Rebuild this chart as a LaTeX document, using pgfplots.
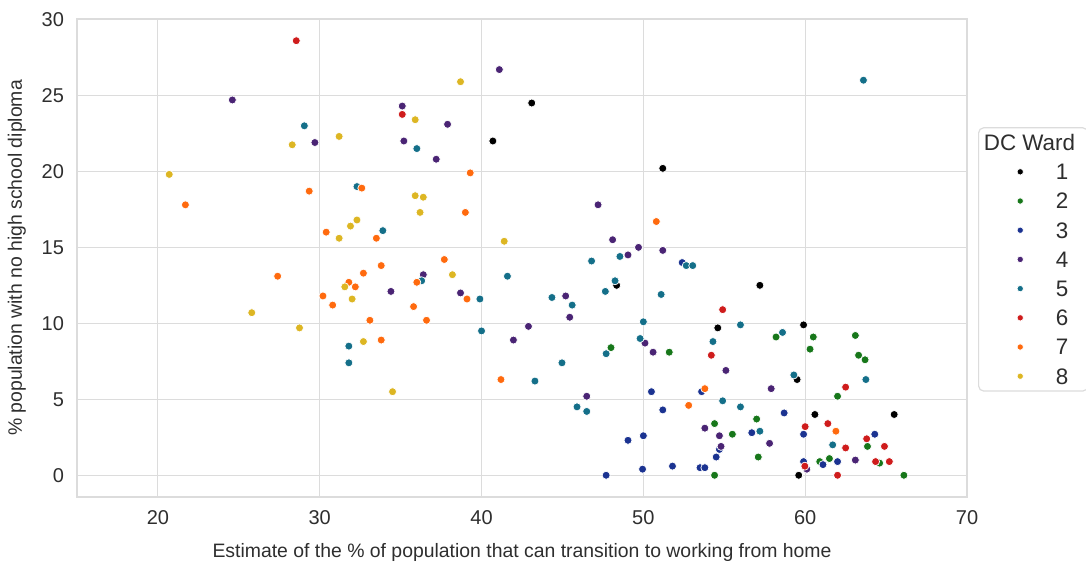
\documentclass[border=0pt]{standalone}
\usepackage{fontspec}
\setmainfont{Liberation Sans}
\usepackage{pgfplots}
\pgfplotsset{compat=1.18}

\definecolor{wA}{HTML}{000000}
\definecolor{wB}{HTML}{17771A}
\definecolor{wC}{HTML}{1B3391}
\definecolor{wD}{HTML}{4A2474}
\definecolor{wE}{HTML}{146F89}
\definecolor{wF}{HTML}{CF1C1C}
\definecolor{wG}{HTML}{FF6A0E}
\definecolor{wH}{HTML}{DDB623}
\definecolor{gridc}{HTML}{DCDCDC}
\definecolor{txt}{HTML}{2E2E2E}

\pgfplotsset{
  ward/.style={only marks, mark=*, mark size=2.0pt,
    mark options={fill=#1, draw=white, line width=0.35pt}},
}

\begin{document}
\begin{tikzpicture}
\begin{axis}[
  name=ax,
  scale only axis,
  width=445pt, height=239pt,
  xmin=15, xmax=70, ymin=-1.43, ymax=30.03,
  xtick={20,30,40,50,60,70},
  ytick={0,5,10,15,20,25,30},
  grid=major,
  major grid style={gridc, line width=0.55pt},
  axis line style={gridc, line width=0.8pt},
  major tick length=0pt,
  tick style={draw=none},
  font=\fontsize{10pt}{12pt}\selectfont,
  ticklabel style={txt},
  /pgf/number format/assume math mode=true,
  xticklabel style={yshift=-3pt},
  yticklabel style={xshift=-3pt},
  xlabel={Estimate of the \% of population that can transition to working from home},
  ylabel={\% population with no high school diploma},
  label style={txt, font=\fontsize{9.7pt}{12pt}\selectfont},
  xlabel style={yshift=-2.5pt},
  ylabel style={yshift=1pt},
  legend style={
    at={(1.0124,0.497)}, anchor=west,
    draw=gridc, rounded corners=2.5pt, line width=0.6pt,
    font=\fontsize{11.2pt}{13pt}\selectfont, text=txt,
    inner xsep=0pt, inner ysep=3.5pt,
    row sep=6.8pt, column sep=0pt,
    nodes={inner sep=0pt, text height=7.8pt, text depth=0pt},
    cells={anchor=west},
  },
  legend image code/.code={
    \draw[mark size=1.6pt] plot coordinates {(20.5pt,0pt)};
    \path (0pt,0pt) (38pt,0pt);
  },
]
\addlegendimage{empty legend}
\addlegendentry{\makebox[16pt][l]{\hspace{-36pt}DC Ward}}

% Ward 1
\addplot[ward=wA] coordinates {
(40.7,22.0) (43.1,24.5) (51.2,20.2) (48.35,12.5) (57.2,12.5) (54.6,9.7)
(59.9,9.9) (59.5,6.3) (60.6,4.0) (65.5,4.0) (59.6,0.0)
};
\addlegendentry{1}

% Ward 2
\addplot[ward=wB] coordinates {
(48.0,8.4) (51.6,8.1) (58.2,9.1) (60.5,9.1) (60.3,8.3) (63.1,9.2)
(63.3,7.9) (63.7,7.6) (62.0,5.2) (54.4,3.4) (57.0,3.7) (55.5,2.7)
(57.1,1.2) (54.4,0.0) (60.9,0.9) (61.5,1.1) (63.85,1.9) (64.6,0.8)
(66.1,0.0)
};
\addlegendentry{2}

% Ward 3
\addplot[ward=wC] coordinates {
(50.5,5.5) (51.2,4.3) (49.05,2.3) (50.0,2.6) (49.95,0.4) (47.7,0.0)
(52.4,14.0) (53.6,5.5) (58.7,4.1) (56.7,2.8) (59.9,2.7) (54.7,1.7)
(54.5,1.2) (51.8,0.6) (53.5,0.5) (53.8,0.5) (59.9,0.9) (61.1,0.7)
(62.0,0.9) (64.3,2.7)
};
\addlegendentry{3}

% Ward 4
\addplot[ward=wD] coordinates {
(24.6,24.7) (29.7,21.9) (41.1,26.7) (35.1,24.3) (35.2,22.0) (37.9,23.1)
(37.2,20.8) (47.2,17.8) (48.1,15.5) (49.05,14.5) (49.7,15.0) (51.2,14.8)
(36.4,13.2) (34.4,12.1) (38.7,12.0) (45.2,11.8) (45.45,10.4) (42.9,9.8)
(41.97,8.9) (50.1,8.7) (50.6,8.1) (46.5,5.2) (55.1,6.9) (57.9,5.7)
(53.8,3.1) (54.7,2.6) (54.8,1.9) (57.8,2.1) (60.1,0.4) (63.1,1.0)
};
\addlegendentry{4}

% Ward 5
\addplot[ward=wE] coordinates {
(29.05,23.0) (32.3,19.0) (36.0,21.5) (33.9,16.1) (46.8,14.1) (48.55,14.4)
(63.6,26.0) (31.8,8.5) (31.8,7.4) (36.3,12.8) (39.9,11.6) (40.0,9.5)
(41.6,13.1) (44.35,11.7) (45.6,11.2) (44.97,7.4) (43.3,6.2) (45.9,4.5)
(46.5,4.2) (48.25,12.8) (47.65,12.1) (51.1,11.9) (50.0,10.1) (49.8,9.0)
(47.7,8.0) (52.65,13.8) (53.05,13.8) (56.0,9.9) (58.6,9.4) (54.3,8.8)
(59.3,6.6) (63.75,6.3) (54.9,4.9) (56.0,4.5) (57.2,2.9) (61.7,2.0)
};
\addlegendentry{5}

% Ward 6
\addplot[ward=wF] coordinates {
(28.55,28.6) (35.1,23.75) (54.9,10.9) (54.2,7.9) (62.5,5.8) (60.0,3.2)
(61.4,3.4) (62.5,1.8) (63.8,2.4) (64.9,1.9) (59.98,0.6) (62.0,0.0)
(64.35,0.9) (65.2,0.9)
};
\addlegendentry{6}

% Ward 7
\addplot[ward=wG] coordinates {
(21.7,17.8) (29.35,18.7) (32.6,18.9) (30.4,16.0) (33.5,15.6) (39.3,19.9)
(39.0,17.3) (50.8,16.7) (37.7,14.2) (27.4,13.1) (30.2,11.8) (30.8,11.2)
(31.8,12.7) (32.2,12.4) (32.7,13.3) (33.1,10.2) (33.8,13.8) (36.0,12.7)
(39.1,11.6) (35.8,11.1) (36.6,10.2) (33.8,8.9) (41.2,6.3) (53.8,5.7)
(52.8,4.6) (61.9,2.9)
};
\addlegendentry{7}

% Ward 8
\addplot[ward=wH] coordinates {
(20.7,19.8) (28.3,21.75) (31.2,22.3) (31.9,16.4) (32.3,16.8) (31.2,15.6)
(38.7,25.9) (35.9,23.4) (35.9,18.4) (36.4,18.3) (36.2,17.3) (41.4,15.4)
(25.8,10.7) (28.75,9.7) (31.55,12.4) (32.0,11.6) (32.7,8.8) (38.2,13.2)
(34.5,5.5)
};
\addlegendentry{8}
\end{axis}
\pgfresetboundingbox
\path ([shift={(-38.5pt,-33.5pt)}]ax.south west) rectangle ([shift={(59.5pt,9.5pt)}]ax.north east);
\end{tikzpicture}
\end{document}
